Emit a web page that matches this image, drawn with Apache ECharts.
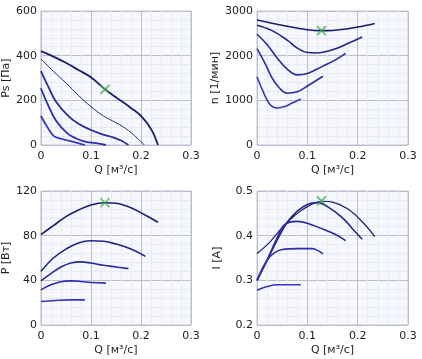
<!DOCTYPE html>
<html><head><meta charset="utf-8">
<script src="https://cdn.jsdelivr.net/npm/echarts@6/dist/echarts.min.js"></script>
<style>html,body{margin:0;padding:0;background:#fff}#c{width:422px;height:359px}</style>
</head><body><div id="c"></div>
<script>
// Ps [Па] vs Q
const ps1 = [[0,420],[0.025,396],[0.05,368],[0.075,336],[0.1,303],[0.128,250],[0.15,214],[0.18,166],[0.2,130],[0.22,72],[0.234,0]];
const ps2 = [[0,385],[0.025,330],[0.05,278],[0.075,222],[0.1,172],[0.125,130],[0.15,100],[0.175,65],[0.195,25],[0.207,0]];
const ps3 = [[0,331],[0.015,260],[0.03,195],[0.053,134],[0.075,95],[0.1,67],[0.12,50],[0.14,37],[0.16,20],[0.175,0]];
const ps4 = [[0,254],[0.015,175],[0.03,110],[0.053,52],[0.07,30],[0.086,16],[0.11,8],[0.13,0]];
const ps5 = [[0,130],[0.013,80],[0.026,40],[0.04,28],[0.055,20],[0.075,8],[0.088,0]];
// n [1/мин] vs Q
const n1 = [[0,2800],[0.05,2680],[0.1,2580],[0.128,2560],[0.15,2565],[0.2,2640],[0.234,2720]];
const n2 = [[0,2680],[0.03,2560],[0.06,2350],[0.08,2170],[0.1,2070],[0.12,2060],[0.15,2130],[0.18,2270],[0.209,2420]];
const n3 = [[0,2480],[0.02,2250],[0.04,1950],[0.06,1700],[0.08,1570],[0.1,1600],[0.13,1760],[0.155,1900],[0.176,2050]];
const n4 = [[0,2160],[0.015,1850],[0.03,1500],[0.045,1270],[0.06,1160],[0.08,1190],[0.1,1320],[0.131,1540]];
const n5 = [[0,1530],[0.012,1200],[0.025,920],[0.04,830],[0.055,860],[0.07,940],[0.087,1030]];
// P [Вт] vs Q
const p1 = [[0,81],[0.025,89],[0.05,97],[0.075,103],[0.1,107.5],[0.128,109.5],[0.15,109],[0.18,105],[0.21,98],[0.234,92]];
const p2 = [[0,48],[0.025,60],[0.05,68],[0.075,73.5],[0.1,75.5],[0.125,75],[0.15,72.5],[0.18,68],[0.209,61.5]];
const p3 = [[0,39.5],[0.02,46],[0.04,52],[0.06,55.5],[0.08,56.5],[0.1,55.5],[0.125,53.5],[0.15,52],[0.175,50.5]];
const p4 = [[0,31.5],[0.02,36],[0.04,38.8],[0.06,39.5],[0.08,39],[0.1,38],[0.13,37.5]];
const p5 = [[0,21],[0.03,22],[0.06,22.5],[0.088,22.5]];
// I [A] vs Q
const i1 = [[0,0.36],[0.025,0.385],[0.05,0.418],[0.075,0.445],[0.1,0.465],[0.13,0.477],[0.15,0.475],[0.18,0.46],[0.21,0.43],[0.234,0.398]];
const i2 = [[0,0.30],[0.02,0.345],[0.04,0.39],[0.06,0.43],[0.08,0.455],[0.1,0.47],[0.12,0.474],[0.14,0.465],[0.17,0.44],[0.19,0.415],[0.209,0.392]];
const i3 = [[0,0.30],[0.02,0.345],[0.04,0.395],[0.055,0.425],[0.08,0.432],[0.1,0.428],[0.13,0.415],[0.155,0.403],[0.176,0.389]];
const i4 = [[0,0.30],[0.02,0.345],[0.035,0.362],[0.05,0.369],[0.08,0.371],[0.11,0.371],[0.122,0.366],[0.131,0.359]];
const i5 = [[0,0.278],[0.02,0.286],[0.04,0.29],[0.06,0.29],[0.087,0.29]];
// operating point
const opQ = 0.128;
const opValues = [249, 2560, 109.5, 0.478];

const xName = 'Q [м³/с]';
const yNames = ['Ps [Па]', 'n [1/мин]', 'P [Вт]', 'I [A]'];
const yMin = [0, 0, 0, 0.2];
const yMax = [600, 3000, 120, 0.5];
const yInt = [200, 1000, 40, 0.1];
const panels = [[ps1,ps2,ps3,ps4,ps5],[n1,n2,n3,n4,n5],[p1,p2,p3,p4,p5],[i1,i2,i3,i4,i5]];

const font = 'DejaVu Sans';
const colors = ['#1c1c6e','#24248a','#2a2a9c','#2e2eac','#3636bc'];
const widthsByPanel = [[1.8,1.0,1.8,1.8,1.8],[1.6,1.6,1.6,1.6,1.6],[1.6,1.6,1.6,1.6,1.6],[1.2,1.6,1.6,1.6,1.6]];
const gridPos = [[40,11],[257,11],[40,191],[257,191]];

const fmt = v => { const r = Math.round(v*1000)/1000; return String(r); };

const grid=[], xAxis=[], yAxis=[], series=[];
gridPos.forEach((g,k)=>{
  grid.push({left:g[0], top:g[1], width:151, height:134, show:true, backgroundColor:'#f6f8fd', borderColor:'#c4c7d2', borderWidth:1});
  xAxis.push({gridIndex:k, type:'value', min:0, max:0.3, interval:0.1, name:xName, nameLocation:'middle', nameGap:20,
    nameTextStyle:{fontFamily:font, fontSize:11, color:'#222'},
    axisLine:{show:false}, axisTick:{show:false},
    axisLabel:{fontFamily:font, fontSize:11, color:'#222', margin:6, formatter:fmt},
    splitLine:{lineStyle:{color:'#b9bdcc', width:1}},
    minorTick:{show:false, splitNumber:5}, minorSplitLine:{show:true, lineStyle:{color:'#e7ebf5', width:1}}});
  yAxis.push({gridIndex:k, type:'value', min:yMin[k], max:yMax[k], interval:yInt[k], name:yNames[k], nameLocation:'middle',
    nameGap: k%2===0 ? 28 : 34,
    nameTextStyle:{fontFamily:font, fontSize:11, color:'#222'},
    axisLine:{show:false}, axisTick:{show:false},
    axisLabel:{fontFamily:font, fontSize:11, color:'#222', margin:4, formatter:fmt},
    splitLine:{lineStyle:{color:'#b9bdcc', width:1}},
    minorTick:{show:false, splitNumber:5}, minorSplitLine:{show:true, lineStyle:{color:'#e7ebf5', width:1}}});
  panels[k].forEach((d,j)=>{
    series.push({type:'line', xAxisIndex:k, yAxisIndex:k, data:d, smooth:0.4, showSymbol:false, symbol:'none',
      lineStyle:{color:colors[j], width:widthsByPanel[k][j]}, z:2, silent:true, animation:false});
  });
  series.push({type:'scatter', xAxisIndex:k, yAxisIndex:k, data:[[opQ, opValues[k]]], symbol:'path://M0,0L10,10M10,0L0,10',
    symbolSize:9, itemStyle:{color:'none', borderColor:'#3fae49', borderWidth:1.6}, z:5, animation:false});
});

const chart = echarts.init(document.getElementById('c'), null, {renderer:'canvas'});
chart.setOption({animation:false, grid, xAxis, yAxis, series});
</script></body></html>
